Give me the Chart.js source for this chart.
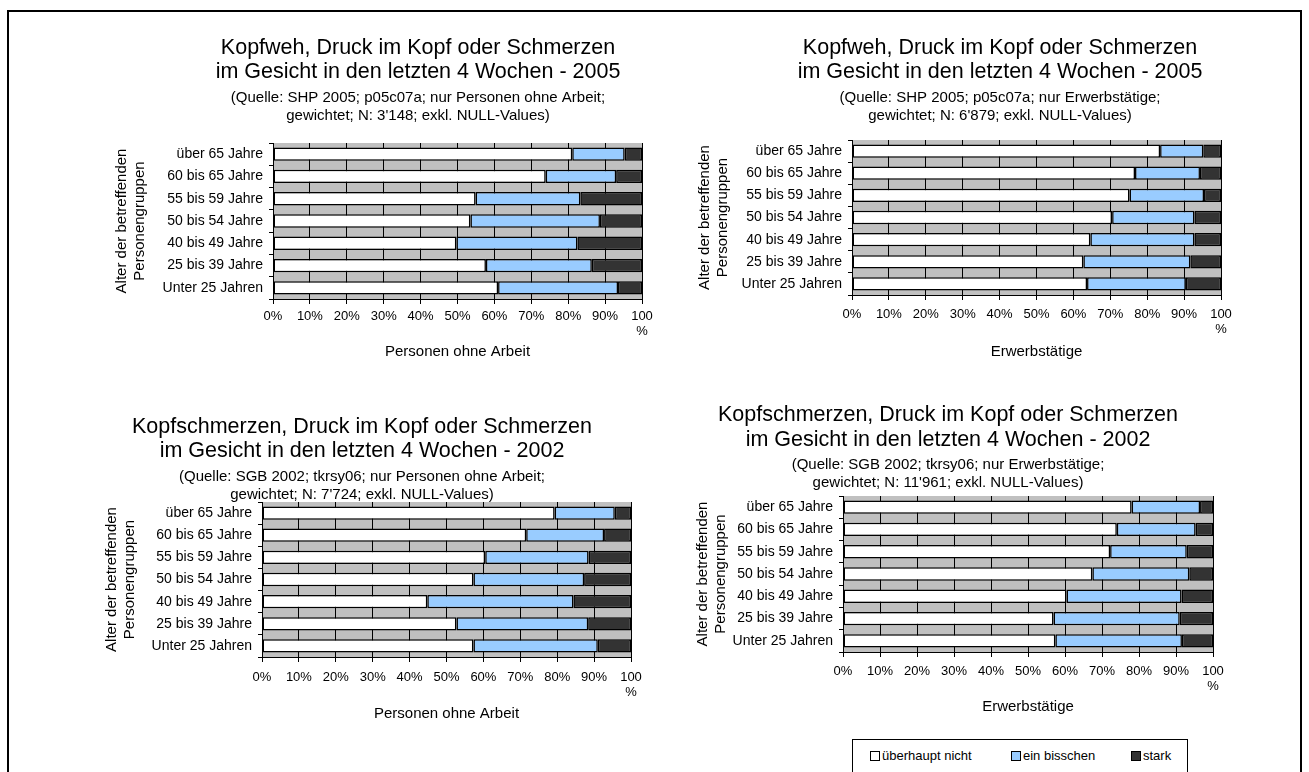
<!DOCTYPE html>
<html>
<head>
<meta charset="utf-8">
<script src="https://cdn.jsdelivr.net/npm/chart.js@4.4.1/dist/chart.umd.min.js"></script>
<style>
  html, body { margin: 0; padding: 0; background: #fff; overflow: hidden; }
  #page { position: relative; width: 1309px; height: 772px; font-family: 'Liberation Sans', Arial, sans-serif; }
  #page canvas { position: absolute; left: 0; top: 0; }
  #frame { position: absolute; left: 7px; top: 10px; width: 1295px; height: 820px; border: 2px solid #000; box-sizing: border-box; }
  #legend { position: absolute; left: 852px; top: 739px; width: 336px; height: 60px; border: 1px solid #000; box-sizing: border-box; background: #fff; }
  #legend .item { position: absolute; top: 8px; font-size: 13px; line-height: 16px; color: #000; white-space: nowrap; }
  #legend .sw { display: inline-block; width: 8px; height: 8px; border: 1px solid #000; margin-right: 2px; vertical-align: -1px; }
</style>
</head>
<body>
<div id="page">
  <div id="frame"></div>
  <canvas id="c1" width="1309" height="772"></canvas>
  <canvas id="c2" width="1309" height="772"></canvas>
  <canvas id="c3" width="1309" height="772"></canvas>
  <canvas id="c4" width="1309" height="772"></canvas>
  <div id="legend"></div>
</div>
<script>
// Age groups, top to bottom
const ageGroups = ['über 65 Jahre', '60 bis 65 Jahre', '55 bis 59 Jahre', '50 bis 54 Jahre',
                   '40 bis 49 Jahre', '25 bis 39 Jahre', 'Unter 25 Jahren'];
const seriesNames = ['überhaupt nicht', 'ein bisschen', 'stark'];
const percentTicks = ['0%', '10%', '20%', '30%', '40%', '50%', '60%', '70%', '80%', '90%', ['100', '%']];
const yAxisTitle = ['Alter der betreffenden', 'Personengruppen'];

// SHP 2005, persons without work (%)
const shpOhneNicht    = [81.1, 73.9, 54.9, 53.5, 49.7, 57.7, 61.0];
const shpOhneBisschen = [14.2, 19.1, 28.4, 35.1, 32.8, 28.7, 32.5];
const shpOhneStark    = [4.7, 7.0, 16.7, 11.4, 17.5, 13.6, 6.5];

// SHP 2005, employed persons (%)
const shpErwNicht    = [83.5, 76.7, 75.2, 70.5, 64.6, 62.7, 63.7];
const shpErwBisschen = [11.7, 17.6, 20.2, 22.3, 28.2, 29.0, 26.8];
const shpErwStark    = [4.8, 5.7, 4.6, 7.2, 7.2, 8.3, 9.5];

// SGB 2002, persons without work (%)
const sgbOhneNicht    = [79.3, 71.6, 60.5, 57.3, 44.8, 52.7, 57.3];
const sgbOhneBisschen = [16.3, 21.1, 28.0, 30.0, 39.6, 35.7, 33.7];
const sgbOhneStark    = [4.4, 7.3, 11.5, 12.7, 15.6, 11.6, 9.0];

// SGB 2002, employed persons (%)
const sgbErwNicht    = [78.0, 74.0, 72.2, 67.4, 60.4, 56.9, 57.4];
const sgbErwBisschen = [18.5, 21.3, 20.7, 26.2, 31.1, 34.1, 34.2];
const sgbErwStark    = [3.5, 4.7, 7.1, 6.4, 8.5, 9.0, 8.4];

const seriesColors = ['#FFFFFF', '#99CCFF', '#333333'];

Chart.defaults.font.family = "'Liberation Sans', Arial, sans-serif";
Chart.defaults.color = '#000';

const W = 1309, H = 772;

// grey plot background
const plotFill = {
  id: 'plotFill',
  beforeDraw(chart) {
    const { ctx, chartArea: a } = chart;
    ctx.save();
    ctx.fillStyle = '#C0C0C0';
    ctx.fillRect(a.left, a.top, a.width, a.height);
    ctx.restore();
  }
};

// centred multi-line heading above each panel
function headline(lines, box) {
  return {
    id: 'headline',
    afterDraw(chart) {
      const ctx = chart.ctx;
      ctx.save();
      ctx.fillStyle = '#000';
      ctx.textAlign = 'center';
      ctx.textBaseline = 'middle';
      lines.forEach((txt, i) => {
        const big = i < 2;
        ctx.font = (big ? box.titleSize : box.subSize) + "px 'Liberation Sans', Arial, sans-serif";
        ctx.fillText(txt, box.titleX, box.lineY[i]);
      });
      ctx.restore();
    }
  };
}

function panel(id, nicht, bisschen, stark, lines, xTitle, box) {
  const yTitleLH = 18;
  const yLeft = box.yTitleX - yTitleLH / 2;
  const xHeight = box.xTitleY + yTitleLH / 2 - box.plotBottom;
  const tickPad = box.tickY - box.plotBottom - 5 - 7.5;
  const values = [nicht, bisschen, stark];
  return new Chart(document.getElementById(id), {
    type: 'bar',
    data: {
      labels: ageGroups,
      datasets: seriesNames.map((name, k) => ({
        label: name,
        data: values[k],
        backgroundColor: seriesColors[k],
        borderColor: '#000',
        borderWidth: 1.5,
        borderSkipped: false,
        barPercentage: 0.6,
        categoryPercentage: 1.0
      }))
    },
    options: {
      indexAxis: 'y',
      responsive: false,
      animation: false,
      devicePixelRatio: 1,
      layout: {
        padding: {
          left: yLeft,
          top: box.plotTop,
          right: W - box.plotRight,
          bottom: H - box.plotBottom - xHeight
        }
      },
      plugins: { legend: { display: false }, tooltip: { enabled: false }, title: { display: false } },
      scales: {
        x: {
          stacked: true,
          min: 0, max: 100,
          ticks: {
            stepSize: 10, autoSkip: false, maxRotation: 0, padding: tickPad,
            font: { size: 13, lineHeight: 1.15 }, color: '#000',
            callback: (v, i) => percentTicks[i]
          },
          grid: { color: '#000', lineWidth: 1, tickLength: 5 },
          border: { color: '#000', width: 1 },
          title: { display: true, text: xTitle, color: '#000', padding: 0, font: { size: 15, lineHeight: 1.2 } },
          afterFit: s => { s.height = xHeight; }
        },
        y: {
          stacked: true,
          ticks: { autoSkip: false, padding: 6, font: { size: 14 }, color: '#000' },
          grid: { drawOnChartArea: false, color: '#000', tickLength: 4 },
          border: { color: '#000', width: 1 },
          title: { display: true, text: yAxisTitle, color: '#000', padding: 0, font: { size: 15, lineHeight: 1.2 } },
          afterFit: s => { s.width = box.plotLeft - yLeft; }
        }
      }
    },
    plugins: [plotFill, headline(lines, box)]
  });
}

panel('c1', shpOhneNicht, shpOhneBisschen, shpOhneStark,
  ['Kopfweh, Druck im Kopf oder Schmerzen',
   'im Gesicht in den letzten 4 Wochen - 2005',
   '(Quelle: SHP 2005; p05c07a; nur Personen ohne Arbeit;',
   "gewichtet; N: 3'148; exkl. NULL-Values)"],
  'Personen ohne Arbeit',
  { plotLeft: 273, plotRight: 642, plotTop: 143, plotBottom: 299, yTitleX: 122, tickY: 316, xTitleY: 352,
    titleX: 418, lineY: [48, 72, 98, 116], titleSize: 21.5, subSize: 15 });

panel('c2', shpErwNicht, shpErwBisschen, shpErwStark,
  ['Kopfweh, Druck im Kopf oder Schmerzen',
   'im Gesicht in den letzten 4 Wochen - 2005',
   '(Quelle: SHP 2005; p05c07a; nur Erwerbstätige;',
   "gewichtet; N: 6'879; exkl. NULL-Values)"],
  'Erwerbstätige',
  { plotLeft: 852, plotRight: 1221, plotTop: 140, plotBottom: 295, yTitleX: 705, tickY: 314, xTitleY: 352,
    titleX: 1000, lineY: [48, 72, 98, 116], titleSize: 21.5, subSize: 15 });

panel('c3', sgbOhneNicht, sgbOhneBisschen, sgbOhneStark,
  ['Kopfschmerzen, Druck im Kopf oder Schmerzen',
   'im Gesicht in den letzten 4 Wochen - 2002',
   '(Quelle: SGB 2002; tkrsy06; nur Personen ohne Arbeit;',
   "gewichtet; N: 7'724; exkl. NULL-Values)"],
  'Personen ohne Arbeit',
  { plotLeft: 262, plotRight: 631, plotTop: 502, plotBottom: 657, yTitleX: 112, tickY: 677, xTitleY: 714,
    titleX: 362, lineY: [427, 451, 477, 495], titleSize: 21.5, subSize: 15 });

panel('c4', sgbErwNicht, sgbErwBisschen, sgbErwStark,
  ['Kopfschmerzen, Druck im Kopf oder Schmerzen',
   'im Gesicht in den letzten 4 Wochen - 2002',
   '(Quelle: SGB 2002; tkrsy06; nur Erwerbstätige;',
   "gewichtet; N: 11'961; exkl. NULL-Values)"],
  'Erwerbstätige',
  { plotLeft: 843, plotRight: 1213, plotTop: 496, plotBottom: 652, yTitleX: 703, tickY: 671, xTitleY: 707,
    titleX: 948, lineY: [415, 440, 465, 483], titleSize: 21.5, subSize: 15 });

// shared legend for all four panels
const legend = document.getElementById('legend');
const legendOffsets = [17, 158, 278];
seriesNames.forEach((name, k) => {
  const item = document.createElement('div');
  item.className = 'item';
  item.style.left = legendOffsets[k] + 'px';
  const sw = document.createElement('span');
  sw.className = 'sw';
  sw.style.background = seriesColors[k];
  item.appendChild(sw);
  item.appendChild(document.createTextNode(name));
  legend.appendChild(item);
});
</script>
</body>
</html>
